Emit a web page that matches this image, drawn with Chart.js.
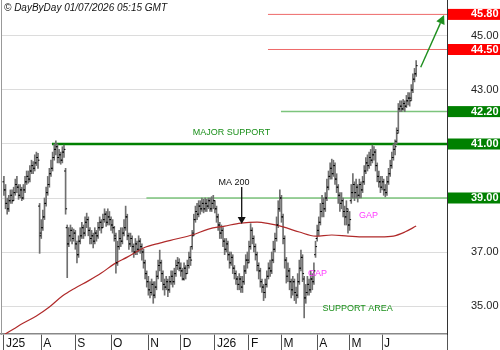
<!DOCTYPE html>
<html><head><meta charset="utf-8">
<script src="https://cdn.jsdelivr.net/npm/chart.js@4/dist/chart.umd.min.js"></script>
<style>html,body{margin:0;padding:0;background:#fff;overflow:hidden}canvas{display:block}</style>
</head><body>
<canvas id="c" width="500" height="350"></canvas>
<script>
// ---------- data ----------
const monthLabels = ['J25','A','S','O','N','D','J26','F','M','A','M','J'];
const monthStartDay = [0,23,44,66,89,109,130,151,171,193,213,233];

const openP = [
39.6,39.3,38.8,38.6,38.9,39.1,38.9,39.2,39.5,39.4,
39.1,39.3,39.0,39.3,39.6,39.8,39.7,40.0,40.2,40.1,
40.3,40.5,38.7,37.7,37.9,38.3,38.8,39.2,39.5,39.9,
40.1,40.5,40.8,40.9,40.5,40.6,40.4,40.7,40.0,37.9,
37.3,37.6,37.8,37.5,37.7,37.3,36.9,37.4,37.6,37.9,
37.7,38.1,38.2,37.8,37.5,37.6,37.4,37.7,37.6,37.9,
38.1,37.9,38.2,38.4,38.1,38.3,38.2,38.0,37.9,37.5,
36.6,37.2,37.5,37.4,37.7,37.9,38.3,37.6,37.3,37.5,
37.2,37.0,37.3,37.1,37.4,37.2,37.0,36.6,36.2,35.9,
35.6,35.5,35.8,35.4,35.7,36.1,36.5,36.6,36.2,35.8,
35.7,35.9,35.6,35.9,36.1,35.9,36.2,36.5,36.6,36.4,
36.3,36.0,36.4,36.2,36.5,36.8,37.2,37.7,38.2,38.5,
38.4,38.7,38.6,38.8,38.6,38.8,38.7,38.9,38.6,38.8,
38.9,38.6,38.3,38.0,37.7,37.8,37.4,37.1,37.3,36.9,
36.6,36.8,36.4,36.2,36.0,35.8,36.0,35.7,35.9,36.3,
36.7,36.7,37.2,37.8,37.5,37.2,36.9,36.5,36.3,35.9,
35.7,35.5,35.8,36.1,36.4,36.3,36.7,37.1,37.5,38.0,
38.6,39.0,38.3,37.5,36.7,36.1,36.3,35.9,35.6,35.9,
35.5,35.4,35.9,36.4,36.8,36.0,35.3,35.5,35.8,35.6,
36.0,35.9,36.9,37.5,37.8,38.1,38.5,38.8,38.6,39.0,
39.4,39.8,40.1,39.9,40.2,39.7,39.4,39.1,38.8,38.9,
38.5,38.3,38.5,38.0,38.9,39.2,39.5,39.2,39.4,39.1,
39.5,39.3,39.6,40.0,40.3,40.2,40.5,40.4,40.6,40.7,
40.2,39.8,39.6,39.4,39.6,39.3,39.2,39.6,39.9,40.2,
40.5,40.8,41.1,41.5,42.3,42.4,42.3,42.5,42.4,42.6,
42.7,42.7,43.0,43.4,43.6];

const highP = [
39.8,39.5,39.0,39.1,39.3,39.3,39.4,39.7,39.8,39.5,
39.5,39.4,39.5,39.8,40.0,40.0,40.2,40.4,40.35,40.6,
40.7,40.65,38.8,38.2,38.55,39.0,39.4,39.8,40.1,40.4,
40.7,41.0,41.12,41.0,40.8,40.7,40.9,40.96,40.1,38.0,
37.9,38.0,37.9,37.85,37.8,37.4,37.6,37.9,38.1,38.0,
38.3,38.44,38.3,37.9,37.8,37.7,37.9,37.8,38.1,38.3,
38.2,38.4,38.6,38.5,38.6,38.5,38.3,38.2,37.95,37.7,
37.4,37.8,37.9,37.9,38.2,38.7,38.4,37.7,37.7,37.6,
37.3,37.5,37.4,37.6,37.5,37.3,37.1,36.7,36.3,36.1,
35.9,36.0,35.9,35.9,36.3,36.7,37.07,36.7,36.3,36.0,
36.1,36.0,36.1,36.3,36.3,36.4,36.7,36.8,36.75,36.6,
36.4,36.6,36.5,36.7,37.0,37.2,37.8,38.4,38.7,38.8,
38.9,38.9,39.0,38.95,39.0,38.95,39.0,39.0,39.05,39.1,
38.9,38.7,38.4,38.1,38.0,37.9,37.5,37.5,37.4,37.0,
37.0,36.9,36.5,36.3,36.1,36.2,36.1,36.1,36.5,36.9,
37.0,37.4,38.05,37.9,37.6,37.3,37.0,36.6,36.4,36.0,
35.8,36.0,36.3,36.6,36.7,37.0,37.4,37.7,38.3,38.9,
39.3,39.1,38.4,37.6,36.8,36.6,36.4,36.0,36.1,36.0,
35.7,36.2,36.7,37.07,36.9,36.1,35.8,36.1,36.0,36.3,
36.2,36.6,37.4,38.0,38.3,38.8,39.1,39.0,39.2,39.7,
40.0,40.3,40.44,40.4,40.3,39.9,39.5,39.2,39.2,39.0,
38.7,38.9,38.6,38.5,39.5,39.9,39.6,39.7,39.5,39.7,
39.6,39.8,40.2,40.5,40.6,40.7,40.8,40.96,40.9,40.8,
40.3,40.0,39.8,39.8,39.7,39.5,39.8,40.1,40.4,40.7,
41.0,41.15,41.6,42.5,42.6,42.6,42.65,42.6,42.8,42.9,
42.9,43.2,43.6,43.8,44.09];

const lowP = [
39.1,38.6,38.4,38.5,38.8,38.8,38.9,39.1,39.2,38.95,
39.0,38.9,38.95,39.2,39.5,39.55,39.6,39.9,39.9,40.0,
40.2,40.1,36.95,37.5,37.8,38.2,38.7,39.1,39.4,39.8,
40.0,40.4,40.6,40.3,40.3,40.25,40.3,40.5,38.4,36.05,
37.2,37.4,37.3,37.4,37.1,36.6,36.8,37.3,37.5,37.5,
37.6,37.9,37.6,37.3,37.3,37.15,37.3,37.4,37.5,37.8,
37.7,37.9,38.1,37.95,38.0,38.0,37.8,37.7,37.4,36.22,
36.5,37.1,37.2,37.3,37.6,37.8,37.45,37.1,37.2,37.0,
36.8,36.9,36.9,37.0,36.95,36.7,36.4,36.0,35.7,35.4,
35.3,35.4,35.1,35.3,35.6,36.0,36.3,35.9,35.6,35.4,
35.6,35.35,35.5,35.8,35.7,35.8,36.1,36.35,36.3,36.1,
35.96,35.96,36.0,36.2,36.4,36.5,37.1,37.6,38.1,38.2,
38.3,38.4,38.5,38.45,38.5,38.5,38.6,38.5,38.5,38.6,
38.45,38.1,37.8,37.5,37.5,37.2,36.9,37.0,36.7,36.4,
36.5,36.2,36.0,35.8,35.6,35.6,35.5,35.5,35.8,36.2,
36.4,36.6,37.1,37.3,37.0,36.7,36.3,36.0,35.7,35.5,
35.2,35.3,35.7,36.0,36.1,36.2,36.6,37.0,37.4,37.9,
38.5,38.1,37.3,36.4,35.85,35.9,35.6,35.3,35.4,35.2,
35.1,35.3,35.8,36.3,35.9,34.56,35.1,35.4,35.4,35.5,
35.6,35.8,36.8,37.4,37.6,38.0,38.3,38.3,38.5,38.9,
39.3,39.7,39.7,39.8,39.5,39.2,38.8,38.5,38.6,38.3,
38.0,38.0,37.7,37.8,38.8,39.0,38.9,39.0,38.85,39.0,
39.0,39.2,39.5,39.9,40.0,40.1,40.2,40.3,40.4,40.0,
39.6,39.4,39.2,39.3,39.1,39.04,39.1,39.5,39.8,40.1,
40.4,40.6,41.0,41.4,42.2,42.2,42.25,42.2,42.35,42.45,
42.4,42.6,42.9,43.3,43.5];

const closeP = [
39.3,38.8,38.6,38.9,39.1,38.9,39.2,39.5,39.4,39.1,
39.3,39.0,39.3,39.6,39.8,39.7,40.0,40.2,40.1,40.3,
40.5,40.4,37.6,37.9,38.3,38.8,39.2,39.5,39.9,40.1,
40.5,40.8,40.9,40.5,40.6,40.4,40.7,40.8,38.6,37.3,
37.6,37.8,37.5,37.7,37.3,36.9,37.4,37.6,37.9,37.7,
38.1,38.2,37.8,37.5,37.6,37.4,37.7,37.6,37.9,38.1,
37.9,38.2,38.4,38.1,38.3,38.2,38.0,37.9,37.6,36.6,
37.2,37.5,37.4,37.7,37.9,38.3,37.6,37.3,37.5,37.2,
37.0,37.3,37.1,37.4,37.2,37.0,36.6,36.2,35.9,35.6,
35.5,35.8,35.4,35.7,36.1,36.5,36.6,36.2,35.8,35.7,
35.9,35.6,35.9,36.1,35.9,36.2,36.5,36.6,36.4,36.3,
36.0,36.4,36.2,36.5,36.8,36.7,37.6,38.2,38.5,38.4,
38.7,38.6,38.8,38.6,38.8,38.7,38.9,38.6,38.8,38.9,
38.6,38.3,38.0,37.7,37.8,37.4,37.1,37.3,36.9,36.6,
36.8,36.4,36.2,36.0,35.8,36.0,35.7,35.9,36.3,36.7,
36.6,37.2,37.8,37.5,37.2,36.9,36.5,36.3,35.9,35.7,
35.5,35.8,36.1,36.4,36.3,36.7,37.1,37.5,38.0,38.6,
39.0,38.3,37.5,36.7,36.1,36.3,35.9,35.6,35.9,35.5,
35.4,35.9,36.4,36.8,36.2,35.3,35.5,35.8,35.6,36.0,
35.9,36.3,37.2,37.8,38.1,38.5,38.8,38.6,39.0,39.4,
39.8,40.1,39.9,40.2,39.7,39.4,39.1,38.8,38.9,38.5,
38.3,38.6,38.0,38.2,39.2,39.5,39.2,39.4,39.1,39.5,
39.3,39.6,40.0,40.3,40.2,40.5,40.4,40.6,40.7,40.2,
39.8,39.6,39.4,39.6,39.3,39.2,39.6,39.9,40.2,40.5,
40.8,40.9,41.4,42.3,42.4,42.3,42.5,42.4,42.6,42.7,
42.6,43.0,43.4,43.6,43.9];

const maDay   = [0,6,12,20,28,36,44,52,60,68,76,86,96,106,116,126,136,146,156,164,172,182,192,202,212,222,232,240,247,254];
const maValue = [33.93,34.15,34.37,34.63,34.96,35.37,35.67,35.93,36.22,36.56,36.81,37.15,37.33,37.48,37.63,37.85,37.96,38.07,38.11,38.04,37.93,37.74,37.59,37.63,37.59,37.56,37.56,37.59,37.74,37.96];

const levelValue   = [45.8, 44.5, 42.2, 41.0, 39.0];
const levelFromDay = [162.7, 162.7, 170.7, 29.6, 87.8];
const yTickValues  = [35, 37, 39, 41, 42.2, 43, 44.5, 45, 45.8];

// ---------- styles / layout ----------
const FONT = '"Liberation Sans", Arial, Helvetica, sans-serif';
const X_MIN = -1.8, X_MAX = 273;
const Y_MIN = 33.963, Y_MAX = 46.3333;
const levelStyle = {
  '45.8': {line:'#ee6a6a', width:1,   box:'#ff0000'},
  '44.5': {line:'#ee6a6a', width:1,   box:'#ff0000'},
  '42.2': {line:'#7cc47c', width:1.5, box:'#008000'},
  '41':   {line:'#008000', width:2.5, box:'#008000'},
  '39':   {line:'#7cc47c', width:1.5, box:'#008000'}
};
const notes = [
  {text:'MAJOR SUPPORT', day:140.2, price:41.44, color:'#1a8f1a'},
  {text:'MA 200',        day:141.8, price:39.59, color:'#111111'},
  {text:'GAP',           day:224.6, price:38.35, color:'#ff3cff'},
  {text:'GAP',           day:193.2, price:36.22, color:'#ff3cff'},
  {text:'SUPPORT AREA',  day:217.9, price:34.91, color:'#1a8f1a'}
];
const arrows = [
  {d1:146.5, p1:39.41, d2:146.5, p2:38.04, color:'#111111', w:1.3, head:7, half:4},
  {d1:256.8, p1:43.84, d2:271.2, p2:45.78, color:'#1f8f1f', w:1.4, head:9, half:4.5}
];

const days = openP.map((_, i) => i);

const datasets = [
  { type:'line', label:'open', data: days.map(i => ({x:i, y:openP[i]})), showLine:false,
    pointStyle:'dash', pointRotation:180, pointRadius:1.5, pointBorderColor:'#000', pointBorderWidth:1,
    pointBackgroundColor:'#000', order:0 },
  { type:'line', label:'close', data: days.map(i => ({x:i, y:closeP[i]})), showLine:false,
    pointStyle:'dash', pointRotation:0, pointRadius:1.5, pointBorderColor:'#000', pointBorderWidth:1,
    pointBackgroundColor:'#000', order:0 },
  { type:'line', label:'MA 200', data: maDay.map((d, i) => ({x:d, y:maValue[i]})),
    borderColor:'#b02a2a', borderWidth:1.2, pointRadius:0, cubicInterpolationMode:'monotone', order:1 },
  { type:'bar', label:'range', data: days.map(i => ({x:i, y:[lowP[i], highP[i]]})),
    backgroundColor:'#707070', borderWidth:0, barThickness:1, grouped:false, order:2 }
];
levelValue.forEach((v, i) => {
  const st = levelStyle[String(v)];
  datasets.push({ type:'line', label:'L'+v, data:[{x:levelFromDay[i], y:v}, {x:X_MAX, y:v}],
    borderColor: st.line, borderWidth: st.width, pointRadius:0, order:3 });
});

function drawArrow(ctx, x1, y1, x2, y2, color, w, head, half) {
  const dx = x2 - x1, dy = y2 - y1, L = Math.hypot(dx, dy), ux = dx / L, uy = dy / L;
  const bx = x2 - ux * head, by = y2 - uy * head;
  ctx.strokeStyle = color; ctx.lineWidth = w;
  ctx.beginPath(); ctx.moveTo(x1, y1); ctx.lineTo(bx, by); ctx.stroke();
  ctx.fillStyle = color;
  ctx.beginPath(); ctx.moveTo(x2, y2);
  ctx.lineTo(bx - uy * half, by + ux * half);
  ctx.lineTo(bx + uy * half, by - ux * half);
  ctx.closePath(); ctx.fill();
}

const overlay = {
  id:'overlay',
  afterDatasetsDraw(chart) {
    const {ctx, scales:{x, y}} = chart;
    ctx.save();
    ctx.textAlign = 'center'; ctx.textBaseline = 'middle';
    ctx.font = '9px ' + FONT;
    notes.forEach(n => {
      ctx.fillStyle = n.color;
      ctx.fillText(n.text, x.getPixelForValue(n.day), y.getPixelForValue(n.price));
    });
    arrows.forEach(a => drawArrow(ctx, x.getPixelForValue(a.d1), y.getPixelForValue(a.p1),
      x.getPixelForValue(a.d2), y.getPixelForValue(a.p2), a.color, a.w, a.head, a.half));
    ctx.restore();
  },
  afterDraw(chart) {
    const ctx = chart.ctx;
    ctx.save();
    ctx.font = 'italic 10px ' + FONT;
    ctx.fillStyle = '#111';
    ctx.textAlign = 'left'; ctx.textBaseline = 'alphabetic';
    ctx.fillText('© DayByDay 01/07/2026 05:15 GMT', 4, 10.5);
    ctx.restore();
  }
};

new Chart(document.getElementById('c'), {
  type:'bar',
  data:{ datasets },
  plugins:[overlay],
  options:{
    responsive:false, animation:false, devicePixelRatio:1,
    layout:{ padding:0, autoPadding:false },
    plugins:{ legend:{display:false}, tooltip:{enabled:false}, title:{display:false} },
    scales:{
      x:{
        type:'linear', min:X_MIN, max:X_MAX, bounds:'data', offset:false, position:'bottom',
        afterBuildTicks: s => { s.ticks = monthStartDay.concat([X_MAX]).map(v => ({value:v})); },
        afterFit: s => { s.height = 16; s.paddingLeft = 0; s.paddingRight = 0; },
        ticks:{ autoSkip:false, maxRotation:0, minRotation:0, align:'start', padding:-14, labelOffset:2,
          color:'#111', font:{family:FONT, size:12},
          callback:(v, i) => (i < monthLabels.length ? monthLabels[i] : '') },
        grid:{ drawOnChartArea:false, drawTicks:true, tickLength:16, color:'#555', lineWidth:1, offset:false },
        border:{ display:true, color:'#888', width:1.5 }
      },
      y:{
        type:'linear', position:'right', min:Y_MIN, max:Y_MAX, bounds:'data',
        afterBuildTicks: s => { s.ticks = yTickValues.map(v => ({value:v})); },
        afterFit: s => { s.width = 53; s.paddingTop = 0; s.paddingBottom = 0; },
        ticks:{ autoSkip:false, crossAlign:'near', padding:24,
          callback: v => Number(v).toFixed(2),
          showLabelBackdrop:true,
          backdropColor: c => (levelStyle[String(c.tick && c.tick.value)] || {}).box || 'rgba(0,0,0,0)',
          backdropPadding:{left:23, right:3, top:0, bottom:0},
          color: c => levelStyle[String(c.tick && c.tick.value)] ? '#ffffff' : '#222',
          font: c => ({family:FONT, size:11, lineHeight:1,
            weight: levelStyle[String(c.tick && c.tick.value)] ? 'bold' : 'normal'}) },
        grid:{ drawTicks:false, lineWidth:1,
          color: c => (c.tick && Number.isInteger(c.tick.value)) ? '#dcdcdc' : 'rgba(0,0,0,0)' },
        border:{ display:true, color:'#333', width:1 }
      },
      yL:{
        type:'linear', position:'left', min:Y_MIN, max:Y_MAX, bounds:'data',
        afterFit: s => { s.width = 1; s.paddingTop = 0; s.paddingBottom = 0; },
        ticks:{ display:false }, grid:{ display:false, drawTicks:false },
        border:{ display:true, color:'#999', width:1 }
      }
    }
  }
});
</script>
</body></html>
